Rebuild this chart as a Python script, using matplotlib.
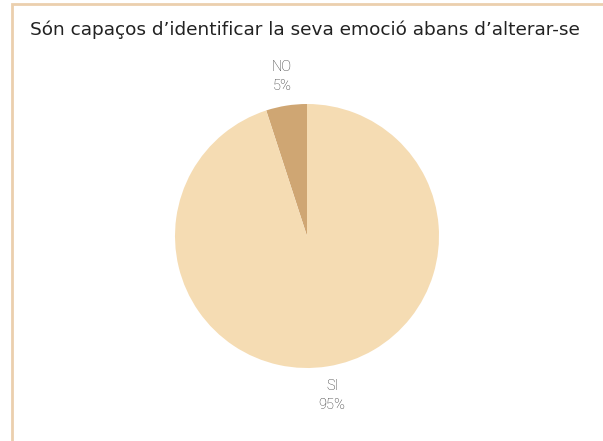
import matplotlib.pyplot as plt
from matplotlib.patches import Rectangle

labels = ["NO", "SI"]
values = [5, 95]
colors = ["#CFA673", "#F5DCB3"]

title = "Són capaços d’identificar la seva emoció abans d’alterar-se"


def pie_label(name, value):
    return "%s\n%d%%" % (name, value)


def main():
    fig = plt.figure(figsize=(6.03, 4.41), dpi=100)

    # frame around the card, cut off at the right and bottom
    fig.patches.append(Rectangle((12 / 603, -0.1), 1.0, 1.1 - 4 / 441,
                                 transform=fig.transFigure, fill=False,
                                 edgecolor="#EBCFAE", linewidth=2))

    fig.text(30 / 603, 1 - 30 / 441, title, fontsize=13.3, color="#222222",
             va="center", ha="left", family="DejaVu Sans")

    ax = fig.add_axes([(307 - 132) / 603, 1 - (236 + 132) / 441,
                       264 / 603, 264 / 441])
    wedges, texts = ax.pie(values, colors=colors, startangle=90,
                           counterclock=True, radius=1.0,
                           labels=[pie_label(n, v) for n, v in zip(labels, values)],
                           labeldistance=1.22,
                           textprops=dict(color="#333333", fontsize=10.5,
                                          family="Roboto", weight="light",
                                          linespacing=1.45, clip_on=False))
    for t in texts:
        t.set_horizontalalignment("center")
        t.set_verticalalignment("center")
    ax.set_xlim(-1, 1)
    ax.set_ylim(-1, 1)
    ax.set_aspect("equal")

    fig.savefig("out.png", dpi=100)


if __name__ == "__main__":
    main()
